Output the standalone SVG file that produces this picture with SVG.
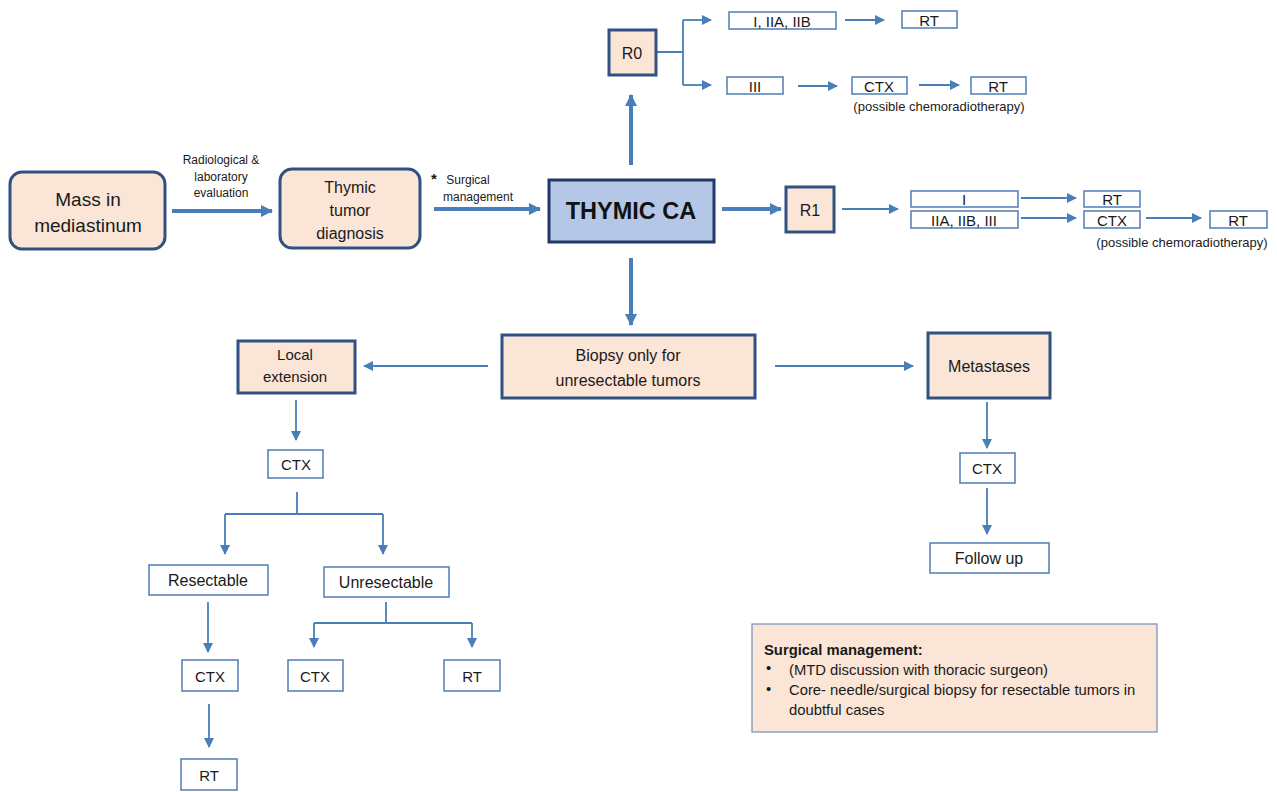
<svg xmlns="http://www.w3.org/2000/svg" width="1277" height="792" viewBox="0 0 1277 792">
<defs>
<marker id="ahT" viewBox="0 0 12 12" refX="11" refY="6" markerWidth="12" markerHeight="12" markerUnits="userSpaceOnUse" orient="auto"><path d="M0,0 L12,6 L0,12 z" fill="#4a7ebb"/></marker>
<marker id="ah" viewBox="0 0 10 10" refX="9" refY="5" markerWidth="10" markerHeight="10" markerUnits="userSpaceOnUse" orient="auto"><path d="M0,0 L10,5 L0,10 z" fill="#4a7ebb"/></marker>
</defs>
<style>
text{font-family:"Liberation Sans",Arial,sans-serif;fill:#1a1a1a;text-anchor:middle;dominant-baseline:central}
.pk{fill:#fbe5d6;stroke:#2f5283;stroke-width:3}
.bx{fill:#ffffff;stroke:#4f7db5;stroke-width:1.5}
.th{fill:none;stroke:#4a7ebb;stroke-width:4;marker-end:url(#ahT)}
.tn{fill:none;stroke:#4a7ebb;stroke-width:1.8;marker-end:url(#ah)}
.ln{fill:none;stroke:#4a7ebb;stroke-width:1.8}
.lbl{font-size:12px}
.pc{font-size:13px}
.s16{font-size:16px}
.s15{font-size:15px}
.nt{font-size:14.8px;text-anchor:start}
</style>
<rect width="1277" height="792" fill="#ffffff"/>

<g id="connectors">
<path class="th" d="M172,211 H272"/>
<path class="th" d="M434,209 H540"/>
<path class="th" d="M631,165 V95"/>
<path class="th" d="M722,209 H781"/>
<path class="th" d="M631,258 V325"/>
<path class="ln" d="M657,52 H683 M683,20 V85"/>
<path class="tn" d="M683,20 H711"/>
<path class="tn" d="M683,85 H711"/>
<path class="tn" d="M845,20 H884"/>
<path class="tn" d="M798,86 H837"/>
<path class="tn" d="M919,85 H959"/>
<path class="tn" d="M842,209 H898"/>
<path class="tn" d="M1021,198 H1076"/>
<path class="tn" d="M1021,218 H1076"/>
<path class="tn" d="M1146,218 H1201"/>
<path class="tn" d="M488,366 H364"/>
<path class="tn" d="M775,366 H913"/>
<path class="tn" d="M296,400 V440"/>
<path class="ln" d="M297,492 V514 M225,514 H383"/>
<path class="tn" d="M225,514 V554"/>
<path class="tn" d="M383,514 V554"/>
<path class="tn" d="M208,602 V652"/>
<path class="tn" d="M209,704 V747"/>
<path class="ln" d="M386,602 V623 M314,623 H472"/>
<path class="tn" d="M314,623 V647"/>
<path class="tn" d="M472,623 V647"/>
<path class="tn" d="M987,402 V448"/>
<path class="tn" d="M987,488 V534"/>
</g>

<g id="edge-labels">
<text class="lbl" x="221" y="160">Radiological &amp;</text>
<text class="lbl" x="221" y="177">laboratory</text>
<text class="lbl" x="221" y="193">evaluation</text>
<text x="434" y="178" style="font-size:15px;font-weight:bold">*</text>
<text class="lbl" x="468" y="180">Surgical</text>
<text class="lbl" x="478" y="197">management</text>
</g>

<g id="mass"><rect class="pk" x="10" y="172" width="155" height="77" rx="12"/>
<text x="88" y="199" style="font-size:19px">Mass in</text><text x="88" y="225" style="font-size:19px">mediastinum</text></g>

<g id="thymic-tumor"><rect class="pk" x="280" y="169" width="140" height="79" rx="12"/>
<text class="s16" x="350" y="187">Thymic</text><text class="s16" x="350" y="210">tumor</text><text class="s16" x="350" y="233">diagnosis</text></g>

<g id="thymic-ca"><rect x="549" y="180" width="165" height="62" fill="#b4c7e7" stroke="#1f3864" stroke-width="3"/>
<text x="631" y="211" style="font-size:23.5px;font-weight:bold;fill:#111">THYMIC CA</text></g>

<g id="r0"><rect class="pk" x="609" y="30" width="47" height="45"/><text class="s16" x="632" y="53">R0</text></g>
<g id="r0-i"><rect class="bx" x="729" y="12" width="107" height="17"/><text class="s15" x="782" y="21">I, IIA, IIB</text></g>
<g id="r0-rt1"><rect class="bx" x="902" y="11" width="55" height="17"/><text class="s15" x="929" y="20">RT</text></g>
<g id="r0-iii"><rect class="bx" x="727" y="77" width="56" height="17"/><text class="s15" x="755" y="86">III</text></g>
<g id="r0-ctx"><rect class="bx" x="852" y="77" width="55" height="17"/><text class="s15" x="879" y="86">CTX</text></g>
<g id="r0-rt2"><rect class="bx" x="971" y="77" width="55" height="17"/><text class="s15" x="998" y="86">RT</text></g>
<text class="pc" x="939" y="106">(possible chemoradiotherapy)</text>

<g id="r1"><rect class="pk" x="786" y="187" width="48" height="45"/><text class="s16" x="810" y="210">R1</text></g>
<g id="r1-i"><rect class="bx" x="911" y="191" width="107" height="16"/><text class="s15" x="964" y="199">I</text></g>
<g id="r1-iia"><rect class="bx" x="911" y="211" width="107" height="17"/><text class="s15" x="964" y="220">IIA, IIB, III</text></g>
<g id="r1-rt1"><rect class="bx" x="1084" y="191" width="56" height="16"/><text class="s15" x="1112" y="199">RT</text></g>
<g id="r1-ctx"><rect class="bx" x="1084" y="211" width="56" height="17"/><text class="s15" x="1112" y="220">CTX</text></g>
<g id="r1-rt2"><rect class="bx" x="1210" y="211" width="57" height="17"/><text class="s15" x="1238" y="220">RT</text></g>
<text class="pc" x="1182" y="242">(possible chemoradiotherapy)</text>

<g id="biopsy"><rect class="pk" x="502" y="335" width="253" height="63"/>
<text class="s16" x="628" y="355">Biopsy only for</text><text class="s16" x="628" y="380">unresectable tumors</text></g>

<g id="local"><rect class="pk" x="238" y="341" width="117" height="52"/>
<text class="s15" x="295" y="354">Local</text><text class="s15" x="295" y="376">extension</text></g>

<g id="metastases"><rect class="pk" x="928" y="333" width="122" height="65"/><text class="s16" x="989" y="366">Metastases</text></g>

<g id="loc-ctx"><rect class="bx" x="268" y="450" width="55" height="28"/><text class="s15" x="296" y="464">CTX</text></g>
<g id="resectable"><rect class="bx" x="149" y="565" width="119" height="30"/><text class="s16" x="208" y="580">Resectable</text></g>
<g id="unresectable"><rect class="bx" x="324" y="567" width="125" height="30"/><text class="s16" x="386" y="582">Unresectable</text></g>
<g id="res-ctx"><rect class="bx" x="182" y="660" width="56" height="31"/><text class="s15" x="210" y="676">CTX</text></g>
<g id="res-rt"><rect class="bx" x="181" y="759" width="56" height="31"/><text class="s15" x="209" y="775">RT</text></g>
<g id="unres-ctx"><rect class="bx" x="288" y="660" width="55" height="31"/><text class="s15" x="315" y="676">CTX</text></g>
<g id="unres-rt"><rect class="bx" x="444" y="660" width="56" height="31"/><text class="s15" x="472" y="676">RT</text></g>

<g id="met-ctx"><rect class="bx" x="960" y="453" width="55" height="30"/><text class="s15" x="987" y="468">CTX</text></g>
<g id="follow-up"><rect class="bx" x="930" y="543" width="119" height="30"/><text class="s16" x="989" y="558">Follow up</text></g>

<g id="note"><rect x="752" y="624" width="405" height="108" fill="#fbe5d6" stroke="#6f8fb5" stroke-width="1.2"/>
<text class="nt" x="764" y="650" style="font-weight:bold">Surgical management:</text>
<text class="nt" x="766" y="668">•</text>
<text class="nt" x="789" y="670">(MTD discussion with thoracic surgeon)</text>
<text class="nt" x="766" y="689">•</text>
<text class="nt" x="789" y="690">Core- needle/surgical biopsy for resectable tumors in</text>
<text class="nt" x="789" y="710">doubtful cases</text></g>
</svg>
